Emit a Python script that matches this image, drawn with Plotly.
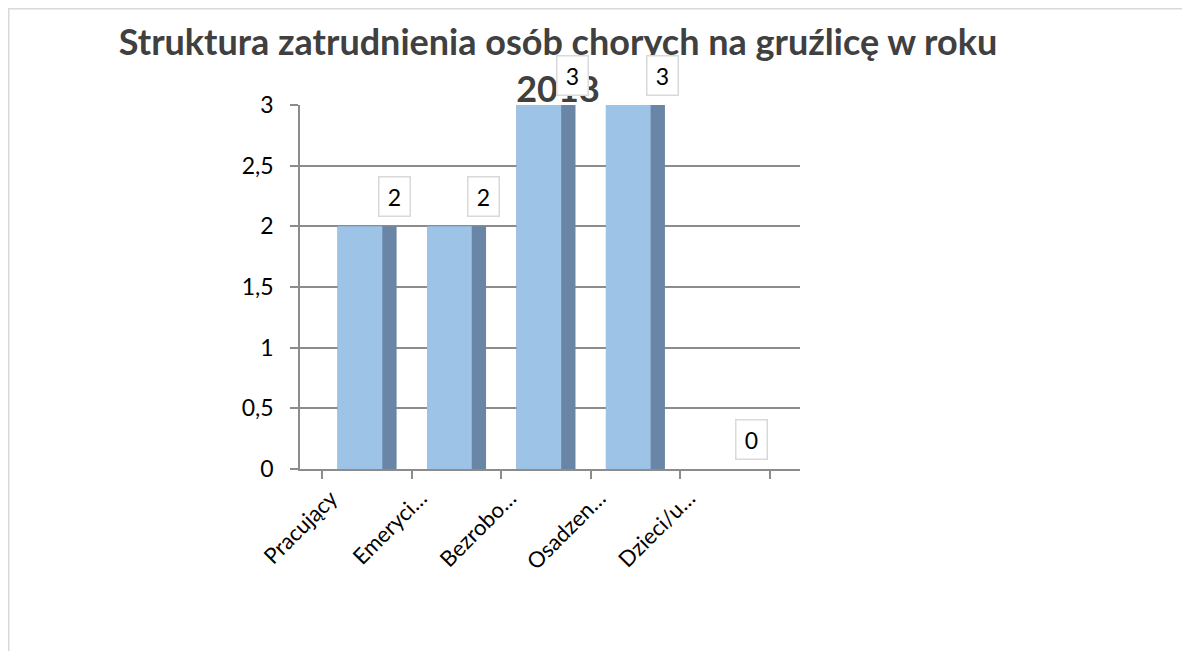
import plotly.graph_objects as go

# ---- data ----
categories = ["Pracujący", "Emeryci…", "Bezrobo…", "Osadzen…", "Dzieci/u…"]
values = [2, 2, 3, 3, 0]
value_labels = ["2", "2", "3", "3", "0"]
y_tickvals = [0, 0.5, 1, 1.5, 2, 2.5, 3]
title_text = "Struktura zatrudnienia osób chorych na gruźlicę w roku<br>2018"

# ---- layout constants (figure pixels) ----
W, H = 1190, 651
ML, MR, MT, MB = 292, 398, 97, 190
PW = W - ML - MR
PH = H - MT - MB
FONT = "Lato"
FRONT = "#9DC3E6"
SIDE = "#6A86A6"
GRID = "#8C8C8C"

fig = go.Figure()

# side (shaded) face of each column
fig.add_trace(go.Bar(
    x=categories, y=values, width=0.66, offset=-0.33,
    marker=dict(color=SIDE, line=dict(width=0)),
    hoverinfo="skip", showlegend=False,
))
# front face of each column
fig.add_trace(go.Bar(
    x=categories, y=values, width=0.5, offset=-0.33,
    marker=dict(color=FRONT, line=dict(width=0)),
    showlegend=False, name="",
))

# data labels in bordered boxes
for c, v, t in zip(categories, values, value_labels):
    fig.add_annotation(
        x=c, y=v, xref="x", yref="y", text=t, showarrow=False,
        xshift=27, yshift=30, width=24, height=32, borderpad=3,
        bgcolor="white", bordercolor="#D9D9D9", borderwidth=1.5,
        font=dict(family=FONT, size=23, color="#000000"),
    )

# chart-area border (light gray frame at the figure's top-left edges)
def px_to_paper_x(px):
    return (px - ML) / PW

def px_to_paper_y(py):
    return (H - MB - py) / PH

fig.add_shape(
    type="rect", xref="paper", yref="paper",
    x0=px_to_paper_x(0.5), x1=px_to_paper_x(W + 20),
    y0=px_to_paper_y(H + 20), y1=px_to_paper_y(0.5),
    line=dict(color="#D9D9D9", width=2), fillcolor="rgba(0,0,0,0)", layer="below",
)

fig.update_layout(
    width=W, height=H,
    margin=dict(l=ML, r=MR, t=MT, b=MB, pad=0),
    paper_bgcolor="white", plot_bgcolor="white",
    barmode="overlay",
    separators=", ",
    showlegend=False,
    font=dict(family=FONT, color="#000000"),
    title=dict(
        text=title_text, x=550 / W, xref="container", xanchor="center",
        y=1 - 47 / H, yref="container", yanchor="top",
        font=dict(family=FONT, size=36, color="#404040", weight="bold"),
    ),
    xaxis=dict(
        type="category", range=[-0.75, 4.84],
        showgrid=False, showline=True, linecolor=GRID, linewidth=1.5,
        ticks="outside", tickson="boundaries", ticklen=8, tickcolor=GRID, tickwidth=1.5,
        tickangle=-45, ticklabelstandoff=6, ticklabelshift=-36,
        tickfont=dict(family=FONT, size=22, color="#000000"),
    ),
    yaxis=dict(
        range=[0, 3], tickvals=y_tickvals,
        showgrid=True, gridcolor=GRID, gridwidth=1.5,
        showline=True, linecolor=GRID, linewidth=1.5,
        ticks="outside", ticklen=8, tickcolor=GRID, tickwidth=1.5,
        ticklabelstandoff=12,
        zeroline=False,
        tickfont=dict(family=FONT, size=23, color="#000000"),
    ),
)

fig.write_html("out.html")
